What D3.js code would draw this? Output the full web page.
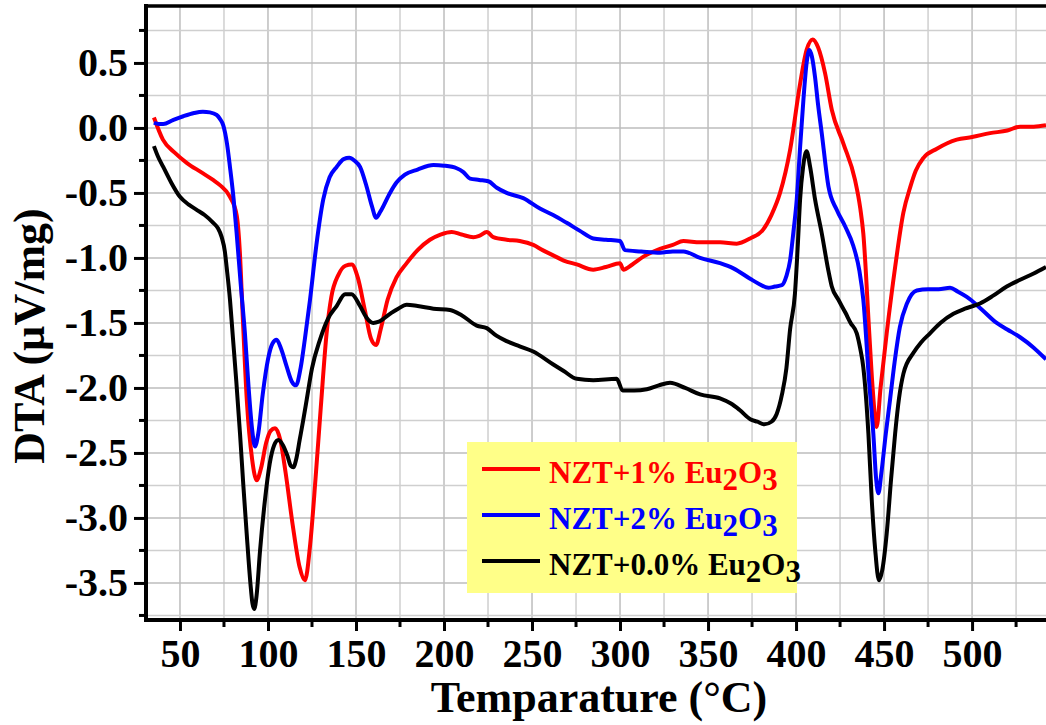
<!DOCTYPE html>
<html>
<head>
<meta charset="utf-8">
<script src="https://cdnjs.cloudflare.com/ajax/libs/d3/7.8.5/d3.min.js"></script>
<style>
  body { margin: 0; background: #fff; }
  svg { display: block; }
  text { font-family: "Liberation Serif", "Times New Roman", serif; font-weight: bold; }
</style>
</head>
<body>
<svg id="chart" width="1046" height="725"></svg>
<script>
// ---- data ----
let xTicks = [50, 100, 150, 200, 250, 300, 350, 400, 450, 500];
let yTicks = [0.5, 0.0, -0.5, -1.0, -1.5, -2.0, -2.5, -3.0, -3.5];

let tempRed = [35.2, 40.3, 47, 54, 62, 68.8, 72.7, 78.4, 82.2, 84, 85.5, 88, 91, 93.6, 96, 99, 101.5, 104, 107, 110,
  114, 118, 121, 124, 127, 130, 133.3, 136, 140, 144, 147.6, 151, 155, 158.5, 161.4, 164, 168, 173, 178.8, 185,
  192, 198, 204.4, 210, 216.7, 220, 224.3, 228, 235.6, 243, 250.7, 256, 262, 268, 275.4, 284.8, 292, 300, 301.9, 307,
  313.3, 322.7, 330, 336, 345.5, 356.8, 366.3, 373.9, 381.4, 386, 390.9, 396.6, 402.3, 406, 409.5, 412.5, 416.5, 420.3, 426.9, 433.5,
  436.5, 438.2, 441.6, 443.5, 445.8, 448, 451.5, 456.3, 461, 465, 468, 472.4, 480, 491.3, 500, 510.2, 520, 527.3, 535, 542];
let dtaRed = [0.08, -0.09, -0.19, -0.27, -0.34, -0.40, -0.44, -0.53, -0.67, -0.95, -1.40, -2.10, -2.55, -2.71, -2.62, -2.42, -2.33, -2.31, -2.40, -2.65,
  -3.05, -3.38, -3.48, -3.20, -2.70, -2.15, -1.58, -1.30, -1.13, -1.06, -1.05, -1.15, -1.40, -1.62, -1.67, -1.55, -1.32, -1.15, -1.04, -0.94,
  -0.86, -0.82, -0.80, -0.82, -0.84, -0.83, -0.80, -0.84, -0.86, -0.87, -0.90, -0.94, -0.98, -1.02, -1.05, -1.09, -1.07, -1.04, -1.09, -1.05,
  -0.99, -0.93, -0.90, -0.87, -0.88, -0.88, -0.89, -0.85, -0.78, -0.67, -0.50, -0.17, 0.34, 0.60, 0.68, 0.62, 0.42, 0.14, -0.12, -0.40,
  -0.62, -0.81, -1.58, -2.00, -2.30, -2.00, -1.58, -1.07, -0.65, -0.45, -0.33, -0.23, -0.16, -0.09, -0.07, -0.04, -0.02, 0.01, 0.01, 0.02];

let tempBlue = [35.2, 38, 40.5, 46, 51.9, 58, 63, 67, 70.8, 72.7, 74.6, 76.7, 78.4, 80.5, 82.2, 84.5, 86.9, 89, 91, 92.6,
  94.5, 97, 100, 102.5, 104.9, 107.5, 110.5, 113.5, 115.9, 118.5, 121, 123.9, 127.5, 131.4, 135, 139, 143, 146.2, 149, 152.3,
  156, 159, 161.4, 164, 169.3, 173, 177.8, 185, 194, 200, 207.2, 211, 214.8, 220, 225.2, 230, 235.6, 245, 254.5, 262,
  269.7, 277, 284.8, 292, 300, 302.8, 312, 322.7, 330, 336, 345.5, 356.8, 364.4, 373.9, 379, 384.3, 388, 391.9, 394.5, 396.6,
  398.5, 400.4, 402.3, 404.2, 406, 407.6, 409, 410.8, 412.5, 414.6, 418.4, 423.1, 428, 432.6, 436, 438.2, 441.5, 443.9, 445.5, 446.8,
  448.5, 451, 453.4, 456, 459, 463, 468.6, 475, 481, 487.5, 492, 497, 505, 514, 520, 527.3, 535, 542];
let dtaBlue = [0.04, 0.03, 0.03, 0.06, 0.09, 0.115, 0.125, 0.12, 0.10, 0.07, 0.02, -0.12, -0.30, -0.55, -0.81, -1.20, -1.58, -2.00, -2.32, -2.45,
  -2.35, -2.05, -1.78, -1.66, -1.63, -1.70, -1.83, -1.95, -1.98, -1.85, -1.62, -1.32, -0.90, -0.55, -0.38, -0.30, -0.24, -0.23, -0.25, -0.30,
  -0.45, -0.60, -0.69, -0.64, -0.50, -0.42, -0.36, -0.32, -0.285, -0.29, -0.31, -0.34, -0.39, -0.40, -0.41, -0.46, -0.50, -0.54, -0.62, -0.67,
  -0.73, -0.79, -0.85, -0.86, -0.87, -0.94, -0.95, -0.96, -0.95, -0.95, -1.00, -1.04, -1.08, -1.16, -1.20, -1.23, -1.22, -1.21, -1.14, -1.02,
  -0.80, -0.55, -0.15, 0.22, 0.50, 0.60, 0.55, 0.39, 0.18, -0.04, -0.45, -0.63, -0.76, -0.91, -1.10, -1.32, -1.95, -2.35, -2.70, -2.81,
  -2.65, -2.35, -2.09, -1.80, -1.53, -1.35, -1.25, -1.24, -1.24, -1.23, -1.26, -1.30, -1.39, -1.50, -1.55, -1.61, -1.69, -1.78];

let tempBlack = [35.2, 37.5, 40.5, 45, 50, 55, 59.5, 64, 68.9, 71.5, 73.7, 75.5, 76.5, 78.4, 80, 82, 84.1, 86, 87.9, 90,
  91.2, 92.2, 93.5, 95.5, 98.3, 101, 103.5, 105.9, 108.5, 111, 113, 114.4, 116, 118, 120, 122, 125, 129.5, 134, 139,
  143.8, 147.5, 152.3, 156, 159.8, 163, 169.3, 174, 178.8, 185, 194, 203.4, 210, 218.6, 224.3, 230, 235.6, 243, 250.7, 262.1,
  268, 275.4, 284.8, 298.1, 301.5, 308, 315.2, 322, 328.4, 337, 345.5, 356.8, 363, 368, 374, 378, 382, 386, 389, 392,
  394.5, 396.6, 399.4, 401, 402.3, 404, 406, 408, 410.8, 414.6, 418.4, 420.3, 424, 428, 431, 434.5, 436.5, 438.2, 441.1, 443,
  445, 447.1, 449, 451.5, 454, 456.3, 458.5, 461, 466.7, 471, 476.1, 482, 489.4, 496, 504.5, 512, 519.7, 527, 535, 542];
let dtaBlack = [-0.14, -0.22, -0.30, -0.42, -0.53, -0.59, -0.63, -0.67, -0.73, -0.77, -0.84, -0.95, -1.07, -1.32, -1.60, -1.95, -2.35, -2.75, -3.12, -3.50,
  -3.66, -3.70, -3.60, -3.25, -2.86, -2.58, -2.44, -2.40, -2.44, -2.52, -2.60, -2.61, -2.55, -2.40, -2.25, -2.09, -1.85, -1.63, -1.47, -1.37,
  -1.28, -1.28, -1.37, -1.46, -1.50, -1.49, -1.43, -1.39, -1.36, -1.37, -1.39, -1.40, -1.44, -1.52, -1.54, -1.60, -1.64, -1.68, -1.72, -1.82,
  -1.87, -1.93, -1.94, -1.93, -2.02, -2.02, -2.01, -1.98, -1.96, -2.00, -2.05, -2.08, -2.12, -2.17, -2.24, -2.26, -2.28, -2.26, -2.20, -2.05,
  -1.85, -1.55, -1.27, -0.90, -0.55, -0.30, -0.18, -0.30, -0.55, -0.81, -1.10, -1.22, -1.32, -1.42, -1.50, -1.58, -1.70, -1.84, -2.35, -2.86,
  -3.25, -3.48, -3.40, -3.12, -2.70, -2.35, -2.08, -1.89, -1.73, -1.65, -1.58, -1.50, -1.43, -1.39, -1.35, -1.29, -1.22, -1.17, -1.12, -1.07];

let seriesNames = ["NZT+1% Eu", "NZT+2% Eu", "NZT+0.0% Eu"];
let seriesColors = ["#ff0000", "#0000ff", "#000000"];

// ---- layout ----
let svg = d3.select("#chart");
let plotLeft = 146, plotRight = 1046, plotTop = 6, plotBottom = 620;

let xScale = d3.scaleLinear().domain([30.7, 542]).range([plotLeft, plotRight]);
let yScale = d3.scaleLinear().domain([-3.785, 0.938]).range([plotBottom, plotTop]);

svg.append("defs").append("clipPath").attr("id", "plotClip")
  .append("rect").attr("x", plotLeft).attr("y", plotTop)
  .attr("width", plotRight - plotLeft).attr("height", plotBottom - plotTop);

// grid every 25 degrees / 0.25 units
let gridX = d3.range(50, 541, 25);
let gridY = d3.range(-3.75, 0.76, 0.25);
let grid = svg.append("g");
grid.selectAll("line.gx").data(gridX).enter().append("line")
  .attr("x1", d => xScale(d)).attr("x2", d => xScale(d))
  .attr("y1", plotTop).attr("y2", plotBottom)
  .attr("stroke", (d, i) => i % 2 == 0 ? "#bdbdbd" : "#cfcfcf").attr("stroke-width", 1.5);
grid.selectAll("line.gy").data(gridY).enter().append("line")
  .attr("y1", d => yScale(d)).attr("y2", d => yScale(d))
  .attr("x1", plotLeft).attr("x2", plotRight)
  .attr("stroke", (d, i) => i % 2 == 1 ? "#bdbdbd" : "#cfcfcf").attr("stroke-width", 1.5);

// legend box sits above the grid, under the curves
let legend = svg.append("g");
legend.append("rect").attr("x", 467).attr("y", 442).attr("width", 330).attr("height", 151).attr("fill", "#ffff88");

// curves
let line = d3.line()
  .x(d => xScale(d[0]))
  .y(d => yScale(d[1]))
  .curve(d3.curveMonotoneX);

let series = [
  d3.zip(tempRed, dtaRed),
  d3.zip(tempBlue, dtaBlue),
  d3.zip(tempBlack, dtaBlack)
];

svg.append("g").attr("clip-path", "url(#plotClip)")
  .selectAll("path").data(series).enter().append("path")
  .attr("d", line)
  .attr("fill", "none")
  .attr("stroke", (d, i) => seriesColors[i])
  .attr("stroke-width", 4)
  .attr("stroke-linejoin", "round");

// axes
let xAxis = d3.axisBottom(xScale).tickValues(xTicks).tickSize(11).tickPadding(8).tickFormat(d3.format("d"));
let xAxisG = svg.append("g").attr("transform", "translate(0," + plotBottom + ")").call(xAxis);
xAxisG.select(".domain").remove();
xAxisG.selectAll("line").attr("stroke", "#000").attr("stroke-width", 3);
xAxisG.selectAll("text").attr("font-size", 40).attr("fill", "#000")
  .attr("font-family", "Liberation Serif").attr("font-weight", "bold");

let xMinor = d3.range(75, 526, 50);
svg.append("g").selectAll("line").data(xMinor).enter().append("line")
  .attr("x1", d => xScale(d)).attr("x2", d => xScale(d))
  .attr("y1", plotBottom).attr("y2", plotBottom + 7)
  .attr("stroke", "#000").attr("stroke-width", 3);

// plain hyphen for negatives, like the original
let yFormat = d => d.toFixed(1);
let yAxis = d3.axisLeft(yScale).tickValues(yTicks).tickSize(12).tickPadding(6).tickFormat(yFormat);
let yAxisG = svg.append("g").attr("transform", "translate(" + plotLeft + ",0)").call(yAxis);
yAxisG.select(".domain").remove();
yAxisG.selectAll("line").attr("stroke", "#000").attr("stroke-width", 3);
yAxisG.selectAll("text").attr("font-size", 40).attr("fill", "#000")
  .attr("font-family", "Liberation Serif").attr("font-weight", "bold");

let yMinor = d3.range(-3.75, 0.76, 0.5);
svg.append("g").selectAll("line").data(yMinor).enter().append("line")
  .attr("y1", d => yScale(d)).attr("y2", d => yScale(d))
  .attr("x1", plotLeft - 7).attr("x2", plotLeft)
  .attr("stroke", "#000").attr("stroke-width", 3);

// frame lines (left, bottom, top)
svg.append("line").attr("x1", plotLeft).attr("x2", plotLeft).attr("y1", plotTop - 2).attr("y2", plotBottom + 2)
  .attr("stroke", "#000").attr("stroke-width", 4);
svg.append("line").attr("x1", plotLeft - 2).attr("x2", plotRight).attr("y1", plotBottom).attr("y2", plotBottom)
  .attr("stroke", "#000").attr("stroke-width", 4);
svg.append("line").attr("x1", plotLeft - 2).attr("x2", plotRight).attr("y1", plotTop).attr("y2", plotTop)
  .attr("stroke", "#000").attr("stroke-width", 3.5);

// axis titles
svg.append("text").attr("x", 599).attr("y", 712).attr("text-anchor", "middle")
  .attr("font-size", 44).text("Temparature (\u00B0C)");
svg.append("text").attr("transform", "translate(44,336) rotate(-90)").attr("text-anchor", "middle")
  .attr("font-size", 44).text("DTA (\u00B5V/mg)");

// legend entries
let legendY = [469, 515, 561];
seriesNames.forEach(function (name, i) {
  legend.append("line").attr("x1", 482).attr("x2", 540).attr("y1", legendY[i]).attr("y2", legendY[i])
    .attr("stroke", seriesColors[i]).attr("stroke-width", 4);
  let t = legend.append("text").attr("x", 549).attr("y", legendY[i] + 14)
    .attr("font-size", 31).attr("fill", seriesColors[i]);
  t.append("tspan").text(name);
  t.append("tspan").attr("dy", 7).text("2");
  t.append("tspan").attr("dy", -7).text("O");
  t.append("tspan").attr("dy", 7).text("3");
});
</script>
</body>
</html>
